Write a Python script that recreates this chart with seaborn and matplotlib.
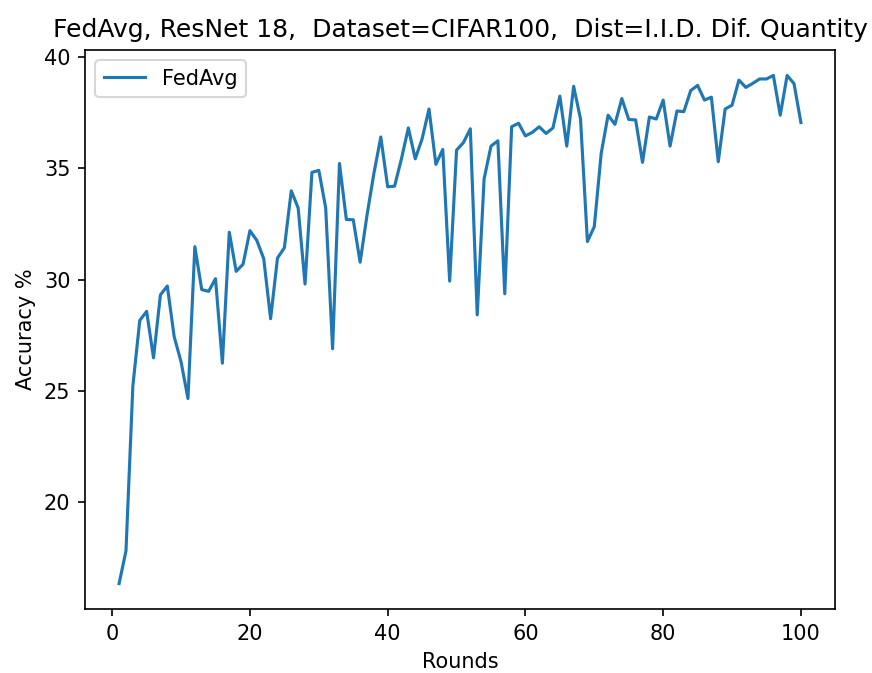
import matplotlib
matplotlib.use("Agg")
import matplotlib.pyplot as plt
import seaborn as sns
import pandas as pd

rounds = list(range(1, 101))
accuracy = [
    16.33, 17.8, 25.22, 28.16, 28.57, 26.48, 29.31, 29.71, 27.43, 26.3,
    24.65, 31.48, 29.55, 29.47, 30.04, 26.24, 32.13, 30.37, 30.69, 32.2,
    31.76, 30.94, 28.24, 30.97, 31.43, 33.99, 33.22, 29.8, 34.82, 34.91,
    33.22, 26.89, 35.22, 32.7, 32.69, 30.78, 32.9, 34.78, 36.41, 34.17,
    34.2, 35.43, 36.82, 35.43, 36.33, 37.67, 35.18, 35.85, 29.93, 35.82,
    36.16, 36.78, 28.41, 34.53, 36.0, 36.24, 29.36, 36.87, 37.03, 36.46,
    36.62, 36.87, 36.57, 36.82, 38.25, 36.0, 38.69, 37.22, 31.71, 32.38,
    35.67, 37.39, 36.98, 38.14, 37.2, 37.18, 35.27, 37.31, 37.22, 38.07,
    36.0, 37.58, 37.55, 38.5, 38.73, 38.07, 38.2, 35.3, 37.67, 37.84,
    38.97, 38.64, 38.82, 39.02, 39.02, 39.18, 37.39, 39.18, 38.81, 37.06,
]
series_name = "FedAvg"

df = pd.DataFrame({"Rounds": rounds, "Accuracy": accuracy})

DPI = 150
fig = plt.figure(figsize=(872 / DPI, 673 / DPI), dpi=DPI)
ax = fig.add_axes([85 / 872, 1 - 609 / 673, (835 - 85) / 872, (609 - 50) / 673])
sns.lineplot(data=df, x="Rounds", y="Accuracy", ax=ax, label=series_name, color="#1f77b4")
ax.set_title("FedAvg, ResNet 18,  Dataset=CIFAR100,  Dist=I.I.D. Dif. Quantity", fontsize=12)
ax.set_xlabel("Rounds")
ax.set_ylabel("Accuracy %")
ax.legend(loc="upper left")
fig.savefig("out.png", dpi=DPI)
